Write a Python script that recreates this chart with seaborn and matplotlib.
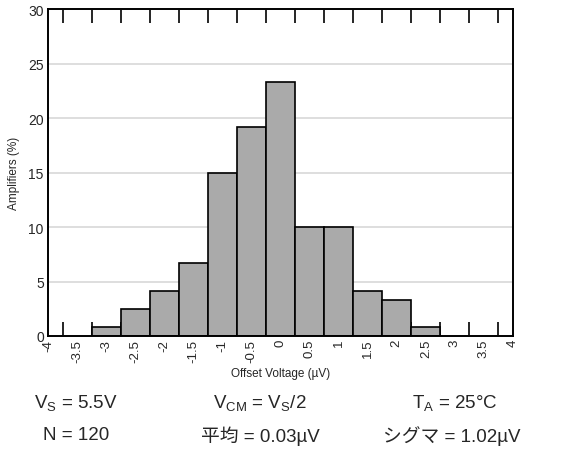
import numpy as np
import matplotlib
matplotlib.use("Agg")
import matplotlib.pyplot as plt
import seaborn as sns
from matplotlib.ticker import FixedLocator

# Data
bin_centers = [-3.0, -2.5, -2.0, -1.5, -1.0, -0.5, 0.0, 0.5, 1.0, 1.5, 2.0, 2.5]
amplifiers_pct = [0.83, 2.5, 4.17, 6.67, 15.0, 19.17, 23.33, 10.0, 10.0, 4.17, 3.33, 0.83]
bin_edges = [-3.25, -2.75, -2.25, -1.75, -1.25, -0.75, -0.25, 0.25, 0.75, 1.25, 1.75, 2.25, 2.75]
x_tick_values = [-4, -3.5, -3, -2.5, -2, -1.5, -1, -0.5, 0, 0.5, 1, 1.5, 2, 2.5, 3, 3.5, 4]
x_tick_labels = ["-4", "-3.5", "-3", "-2.5", "-2", "-1.5", "-1", "-0.5", "0", "0.5", "1", "1.5", "2", "2.5", "3", "3.5", "4"]
y_tick_values = [0, 5, 10, 15, 20, 25, 30]

sns.set_theme(style="white")
plt.rcParams['font.family'] = ['Liberation Sans', 'Noto Sans CJK JP', 'DejaVu Sans']
plt.rcParams['mathtext.fontset'] = 'custom'
plt.rcParams['mathtext.rm'] = 'Liberation Sans'
plt.rcParams['mathtext.it'] = 'Liberation Sans:italic'

fig = plt.figure(figsize=(5.61, 4.56), dpi=100)
ax = fig.add_axes([48/561, 1-337/456, (513-48)/561, (337-10)/456])

sns.histplot(x=bin_centers, weights=amplifiers_pct, bins=bin_edges, ax=ax,
             color="#aaaaaa", alpha=1, edgecolor="black", linewidth=1.2)

ax.set_xlim(-4, 4)
ax.set_ylim(0, 30)
ax.set_axisbelow(True)
ax.yaxis.grid(True, color="#d8d8d8", linewidth=1.2)
ax.xaxis.grid(False)

ax.set_xticks(x_tick_values)
ax.set_xticklabels(x_tick_labels, rotation=90, fontsize=9.5)
ax.xaxis.set_minor_locator(FixedLocator(np.arange(-3.75, 3.76, 0.5)))
ax.tick_params(axis='x', which='major', length=0, pad=2)
ax.tick_params(axis='x', which='minor', length=10, width=1.2, direction='in',
               top=True, bottom=True, color='black')
ax.set_yticks(y_tick_values)
ax.tick_params(axis='y', which='major', length=0, labelsize=10, pad=3)

for s in ax.spines.values():
    s.set_visible(True)
    s.set_color('black')
    s.set_linewidth(1.4)

ax.set_xlabel("Offset Voltage (µV)", fontsize=8.5, labelpad=4)
ax.set_ylabel("Amplifiers (%)", fontsize=8.5, labelpad=6)

fs = 13.5
fig.text(76/561, 1-403/456, r"V$_{\mathrm{S}}$ = 5.5V", ha='center', va='center', fontsize=fs)
fig.text(260/561, 1-403/456, r"V$_{\mathrm{CM}}$ = V$_{\mathrm{S}}$/2", ha='center', va='center', fontsize=fs)
fig.text(455/561, 1-403/456, r"T$_{\mathrm{A}}$ = 25°C", ha='center', va='center', fontsize=fs)
fig.text(76/561, 1-436/456, "N = 120", ha='center', va='center', fontsize=fs)
fig.text(260/561, 1-436/456, "平均 = 0.03µV", ha='center', va='center', fontsize=fs)
fig.text(452/561, 1-436/456, "シグマ = 1.02µV", ha='center', va='center', fontsize=fs)

fig.savefig("out.png", dpi=100)
